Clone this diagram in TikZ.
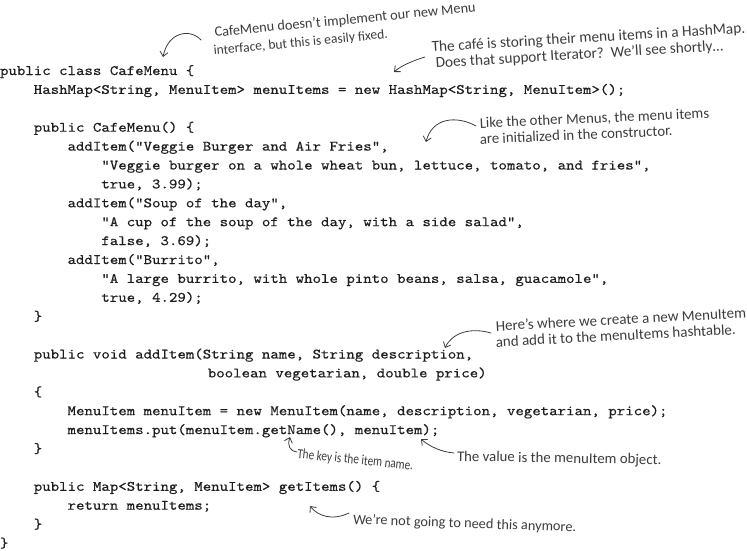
\documentclass[tikz,border=0pt]{standalone}
\usepackage{fontspec}
\newfontfamily\hand{Carlito}
\newfontfamily\codefont{lmmono10-regular}[Extension=.otf, Ligatures=ResetAll, FakeStretch=1.12, FakeBold=0.4]
\usetikzlibrary{arrows.meta}
\definecolor{codecol}{HTML}{1E1E1E}
\definecolor{notecol}{HTML}{3C3C3C}
\tikzset{
  code/.style={anchor=base west, inner sep=0pt, outer sep=0pt, text=codecol,
    font=\codefont\fontsize{14.37}{17}\selectfont},
  note/.style={anchor=base west, inner sep=0pt, outer sep=0pt, text=notecol,
    font=\hand\fontsize{15}{18}\selectfont},
  pointer/.style={draw=notecol, line width=0.8pt, line cap=round,
    -{Straight Barb[length=4.5pt,width=8pt,line cap=round]}},
}
\newcommand\cw{8.448}
\newcommand\lh{18.9}
\newcommand\lz{75}
\newcommand\hs[1]{\hand\fontsize{#1}{18}\selectfont}
\begin{document}
\begin{tikzpicture}[x=1pt,y=-1pt]
\useasboundingbox (0,0) rectangle (747,551);
\frenchspacing
% code lines
\node[code] (l0)  at ({0*\cw},{\lz+0*\lh})  {public class CafeMenu \{};
\node[code] (l1)  at ({4*\cw},{\lz+1*\lh})  {HashMap<String, MenuItem> menuItems = new HashMap<String, MenuItem>();};
\node[code] (l3)  at ({4*\cw},{\lz+3*\lh})  {public CafeMenu() \{};
\node[code] (l4)  at ({8*\cw},{\lz+4*\lh})  {addItem("Veggie Burger and Air Fries",};
\node[code] (l5)  at ({12*\cw},{\lz+5*\lh}) {"Veggie burger on a whole wheat bun, lettuce, tomato, and fries",};
\node[code] (l6)  at ({12*\cw},{\lz+6*\lh}) {true, 3.99);};
\node[code] (l7)  at ({8*\cw},{\lz+7*\lh})  {addItem("Soup of the day",};
\node[code] (l8)  at ({12*\cw},{\lz+8*\lh}) {"A cup of the soup of the day, with a side salad",};
\node[code] (l9)  at ({12*\cw},{\lz+9*\lh}) {false, 3.69);};
\node[code] (l10) at ({8*\cw},{\lz+10*\lh}) {addItem("Burrito",};
\node[code] (l11) at ({12*\cw},{\lz+11*\lh}) {"A large burrito, with whole pinto beans, salsa, guacamole",};
\node[code] (l12) at ({12*\cw},{\lz+12*\lh}) {true, 4.29);};
\node[code] (l13) at ({4*\cw},{\lz+13*\lh}) {\}};
\node[code] (l15) at ({4*\cw},{\lz+15*\lh}) {public void addItem(String name, String description,};
\node[code] (l16) at ({24.6*\cw},{\lz+16*\lh}) {boolean vegetarian, double price)};
\node[code] (l17) at ({4*\cw},{\lz+17*\lh}) {\{};
\node[code] (l18) at ({8*\cw},{\lz+18*\lh}) {MenuItem menuItem = new MenuItem(name, description, vegetarian, price);};
\node[code] (l19) at ({8*\cw},{\lz+19*\lh}) {menuItems.put(menuItem.getName(), menuItem);};
\node[code] (l20) at ({4*\cw},{\lz+20*\lh}) {\}};
\node[code] (l22) at ({4*\cw},{\lz+22*\lh}) {public Map<String, MenuItem> getItems() \{};
\node[code] (l23) at ({8*\cw},{\lz+23*\lh}) {return menuItems;};
\node[code] (l24) at ({4*\cw},{\lz+24*\lh}) {\}};
\node[code] (l25) at ({0*\cw},{\lz+25*\lh}) {\}};
% annotations
\node[note, rotate=5.5, font=\hs{14.3}] (n1a) at (215,37) {CafeMenu doesn’t implement our new Menu};
\node[note, rotate=5.5, font=\hs{13.5}] (n1b) at (214,55) {interface, but this is easily fixed.};
\node[note, rotate=3.5, font=\hs{15.3}] (n2a) at (432,52) {The café is storing their menu items in a HashMap.};
\node[note, rotate=3.5, font=\hs{15.2}] (n2b) at (436,68) {Does that support Iterator?\ \ We’ll see shortly…};
\node[note, rotate=2.5, font=\hs{14.8}] (n3a) at (480,128) {Like the other Menus, the menu items};
\node[note, rotate=2.5, font=\hs{14.8}] (n3b) at (480,144) {are initialized in the constructor.};
\node[note, rotate=3] (n4a) at (496,331) {Here’s where we create a new MenuItem};
\node[note, rotate=3] (n4b) at (496,347) {and add it to the menuItems hashtable.};
\node[note, rotate=-6, font=\hs{14}] (n5) at (297,458) {\scalebox{0.8}[1]{The key is the item name.}};
\node[note, rotate=-1, font=\hs{14.8}] (n6) at (457,461) {The value is the menuItem object.};
\node[note, rotate=-2, font=\hs{14.3}] (n7) at (353,524) {We’re not going to need this anymore.};
% arrow ends
\coordinate (a1s) at (201,40);  \coordinate (a1t) at (163,57);
\coordinate (a2s) at (425,57);  \coordinate (a2t) at (394,72);
\coordinate (a3s) at (476,126); \coordinate (a3t) at (426,142);
\coordinate (a4s) at (491,333); \coordinate (a4t) at (445,348);
\coordinate (a5s) at (297,452); \coordinate (a5t) at (290,437);
\coordinate (a6s) at (454,453); \coordinate (a6t) at (421,439);
\coordinate (a7s) at (349,513); \coordinate (a7t) at (310,506);
\draw[pointer] (a1s) .. controls (190,28) and (168,32) .. (a1t);
\draw[pointer] (a2s) .. controls (415,60) and (402,65) .. (a2t);
\draw[pointer] (a3s) .. controls (456,115) and (432,118) .. (a3t);
\draw[pointer] (a4s) .. controls (470,327) and (452,333) .. (a4t);
\draw[pointer] (a5s) .. controls (290,451) and (287,446) .. (a5t);
\draw[pointer] (a6s) .. controls (442,452) and (430,447) .. (a6t);
\draw[pointer] (a7s) .. controls (332,521) and (318,516) .. (a7t);
\end{tikzpicture}
\end{document}
